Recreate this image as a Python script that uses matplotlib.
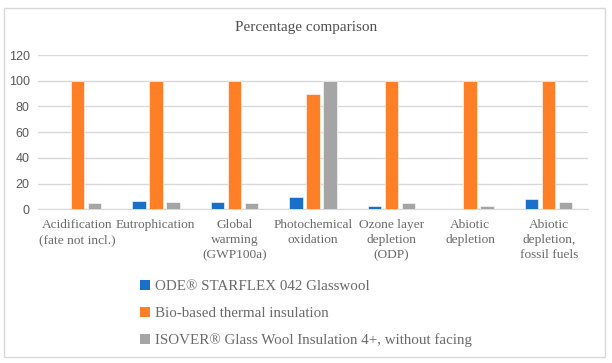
import matplotlib
matplotlib.use("Agg")
import matplotlib.pyplot as plt
import numpy as np
from matplotlib.patches import Patch, Rectangle

categories = ["Acidification\n(fate not incl.)", "Eutrophication", "Global\nwarming\n(GWP100a)",
              "Photochemical\noxidation", "Ozone layer\ndepletion\n(ODP)", "Abiotic\ndepletion",
              "Abiotic\ndepletion,\nfossil fuels"]
series_names = ["ODE® STARFLEX 042 Glasswool", "Bio-based thermal insulation",
                "ISOVER® Glass Wool Insulation 4+, without facing"]
ode = [0.5, 6.5, 5.9, 9.6, 2.8, 0.3, 8.0]
bio = [100, 100, 100, 89.4, 100, 100, 100]
isover = [4.7, 5.4, 4.7, 100, 4.9, 2.8, 5.9]
yticks = [0, 20, 40, 60, 80, 100, 120]
title = "Percentage comparison"

colors = ["#1a6fc9", "#ff7f27", "#a5a5a5"]
serif = "Liberation Serif"
sans = "Liberation Sans"

W, H = 612, 363
fig = plt.figure(figsize=(W / 100, H / 100), dpi=100)
fig.patches.append(Rectangle((4 / W, 1 - 357 / H), 601 / W, 349 / H, transform=fig.transFigure,
                             fill=False, edgecolor="#d9d9d9", linewidth=1))

ax = fig.add_axes([38 / W, 1 - 209.3 / H, 550 / W, 154.3 / H])
x = np.arange(len(categories))
bw = 0.17
step = 0.216
for i, (vals, c, name) in enumerate(zip([ode, bio, isover], colors, series_names)):
    ax.bar(x + (i - 1) * step, vals, width=bw, color=c, label=name, zorder=3,
           edgecolor="white", linewidth=0.4)

ax.set_xlim(-0.5, len(categories) - 0.5)
ax.set_ylim(0, 120)
ax.set_yticks(yticks)
ax.set_yticklabels([str(t) for t in yticks], fontfamily=sans, fontsize=9, color="#595959")
ax.set_xticks(x)
ax.set_xticklabels(categories, fontfamily=serif, fontsize=9.6, color="#6a6a6a", linespacing=1.32)
ax.tick_params(axis="both", length=0)
ax.tick_params(axis="y", pad=6)
ax.tick_params(axis="x", pad=7)
ax.grid(axis="y", color="#d9d9d9", linewidth=1, zorder=0)
for s in ["top", "right", "left"]:
    ax.spines[s].set_visible(False)
ax.spines["bottom"].set_color("#d9d9d9")
ax.set_axisbelow(True)

fig.text(306 / W, 1 - 28 / H, title, ha="center", va="center", fontfamily=serif,
         fontsize=11, color="#505050")

handles = [Patch(facecolor=c) for c in colors]
leg = fig.legend(handles, series_names, loc="upper left", bbox_to_anchor=(140 / W, 1 - 280 / H),
                 frameon=False, prop={"family": serif, "size": 10.8}, handlelength=0.65,
                 handleheight=0.65, handletextpad=0.35, labelspacing=0.9, borderpad=0, borderaxespad=0)
for t in leg.get_texts():
    t.set_color("#6a6a6a")

fig.savefig("out.png", dpi=100)
